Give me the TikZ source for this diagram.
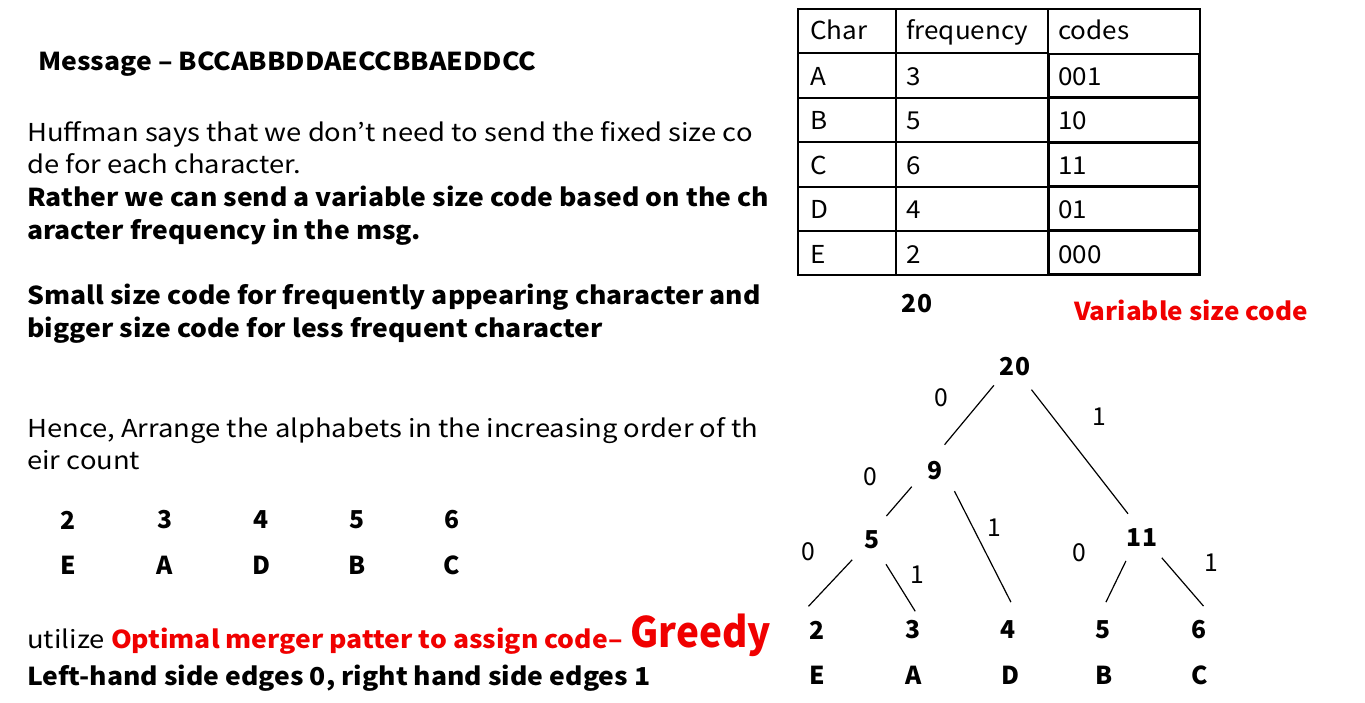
\documentclass[tikz,border=0pt]{standalone}
\usepackage{fontspec}
\setmainfont{Noto Sans CJK KR}
% wide setting for the running text, slightly wide for the table, narrow for the big word
\newfontfamily\bodyfont{Noto Sans CJK KR}[FakeStretch=1.11, BoldFeatures={FakeStretch=1.075}]
\newfontfamily\tablefont{Noto Sans CJK KR}[FakeStretch=1.055, BoldFeatures={FakeStretch=1.055}]
\newfontfamily\bigfont{Noto Sans CJK KR}[FakeStretch=0.92, BoldFeatures={FakeStretch=0.92}]
\definecolor{hred}{RGB}{240,0,0}
\begin{document}
\begin{tikzpicture}[x=0.75pt,y=-0.75pt,
  txt/.style={anchor=base west, inner sep=0pt, font=\bodyfont\fontsize{18.5}{20}\selectfont},
  btxt/.style={anchor=base west, inner sep=0pt, font=\bodyfont\fontsize{18.5}{20}\selectfont\bfseries},
  cell/.style={anchor=base west, inner sep=0pt, font=\tablefont\fontsize{18.5}{20}\selectfont},
  big/.style={anchor=center, inner sep=0pt, font=\fontsize{18.5}{20}\selectfont\bfseries},
  tnode/.style={circle, minimum size=42pt, inner sep=0pt, outer sep=0pt, font=\fontsize{18.5}{20}\selectfont\bfseries},
  elabel/.style={inner sep=0pt, font=\fontsize{18.5}{20}\selectfont},
  tedge/.style={draw, line width=0.9pt},
  grid/.style={line width=1pt},
  codebox/.style={draw, line width=1.8pt}]
\useasboundingbox (0,0) rectangle (1365,703);
\fill[white] (0,0) rectangle (1365,703);

% ---- left column of text ----
\node[btxt] (msg) at (38,70) {Message – BCCABBDDAECCBBAEDDCC};
\node[txt] (h1) at (27,141) {Huffman says that we don’t need to send the fixed size co};
\node[txt] (h2) at (27,173) {de for each character.};
\node[btxt] (r1) at (27,206) {Rather we can send a variable size code based on the ch};
\node[btxt] (r2) at (27,239) {aracter frequency in the msg.};
\node[btxt] (s1) at (27,304) {Small size code for frequently appearing character and};
\node[btxt] (s2) at (27,337) {bigger size code for less frequent character};
\node[txt] (a1) at (27,437) {Hence, Arrange the alphabets in the increasing order of th};
\node[txt] (a2) at (27,469) {eir count};

% sorted counts
\foreach \n/\c/\x in {2/E/68, 3/A/165, 4/D/261, 5/B/357, 6/C/452} {
  \node[big] (cnt\c) at (\x,520) {\n};
  \node[big] (let\c) at (\x,565) {\c};
}

\node[txt] (u1) at (27,648) {utilize \textcolor{hred}{\bfseries Optimal merger patter to assign code–}};
\node[anchor=base west, inner sep=0pt, text=hred, font=\bigfont\fontsize{31.5}{34}\selectfont\bfseries] (greedy) at (630,647) {Greedy};
\node[btxt] (lh) at (27,685) {Left-hand side edges 0, right hand side edges 1};

% ---- frequency table ----
\draw[grid] (798,9) rectangle (1200,275);
\foreach \y in {53,98,142,187,231} \draw[grid] (798,\y) -- (1048,\y);
\draw[grid] (1048,9) -- (1200,9);
\draw[grid] (896,9) -- (896,275);
\draw[grid] (1048,9) -- (1048,275);
\foreach \t/\b in {53/97,97/142,142/186,186/230,230/274}
  \draw[codebox] (1049,\t+1) rectangle (1199,\b);

\node[cell] (hc) at (810,40) {Char};
\node[cell] (hf) at (906,40) {frequency};
\node[cell] (hk) at (1058,40) {codes};
\foreach \c/\f/\k/\y in {A/3/001/85, B/5/10/129, C/6/11/174, D/4/01/218, E/2/000/263} {
  \node[cell] (tc\c) at (810,\y) {\c};
  \node[cell] (tf\c) at (906,\y) {\f};
  \node[cell] (tk\c) at (1058,\y) {\k};
}

\node[big] (total) at (917,304) {20};
\node[anchor=base west, inner sep=0pt, text=hred, font=\tablefont\fontsize{18.5}{20}\selectfont\bfseries] (vsc) at (1074,320) {Variable size code};

% ---- Huffman tree ----
\node[tnode] (n20) at (1015,367) {20};
\node[tnode] (n9)  at (935,471) {9};
\node[tnode] (n11) at (1142,538) {11};
\node[tnode] (n5)  at (872,540) {5};
\node[tnode] (l2) at (817,630) {2};
\node[tnode] (l3) at (913,630) {3};
\node[tnode] (l4) at (1008,630) {4};
\node[tnode] (l5) at (1103,630) {5};
\node[tnode] (l6) at (1199,630) {6};
\foreach \c/\x in {E/817, A/914, D/1010, B/1104, C/1200}
  \node[big] (tl\c) at (\x,675) {\c};

\draw[tedge] (n20.221) -- (n9.70);
\draw[tedge] (n20.306) -- (n11.120);
\draw[tedge] (n9.214) -- (n5.59);
\draw[tedge] (n9.314) -- (l4.84);
\draw[tedge, shorten >=-4pt] (n5.225) -- (l2.100);
\draw[tedge, shorten >=-8pt] (n5.300) -- (l3.97);
\draw[tedge] (n11.235) -- (l5.84);
\draw[tedge, shorten >=-4pt] (n11.315) -- (l6.88);

\node[elabel] (e1) at (941,398) {0};
\node[elabel] (e2) at (1099,417) {1};
\node[elabel] (e3) at (870,477) {0};
\node[elabel] (e4) at (994,528) {1};
\node[elabel] (e5) at (808,552) {0};
\node[elabel] (e6) at (917,575) {1};
\node[elabel] (e7) at (1079,553) {0};
\node[elabel] (e8) at (1211,563) {1};
\end{tikzpicture}
\end{document}
